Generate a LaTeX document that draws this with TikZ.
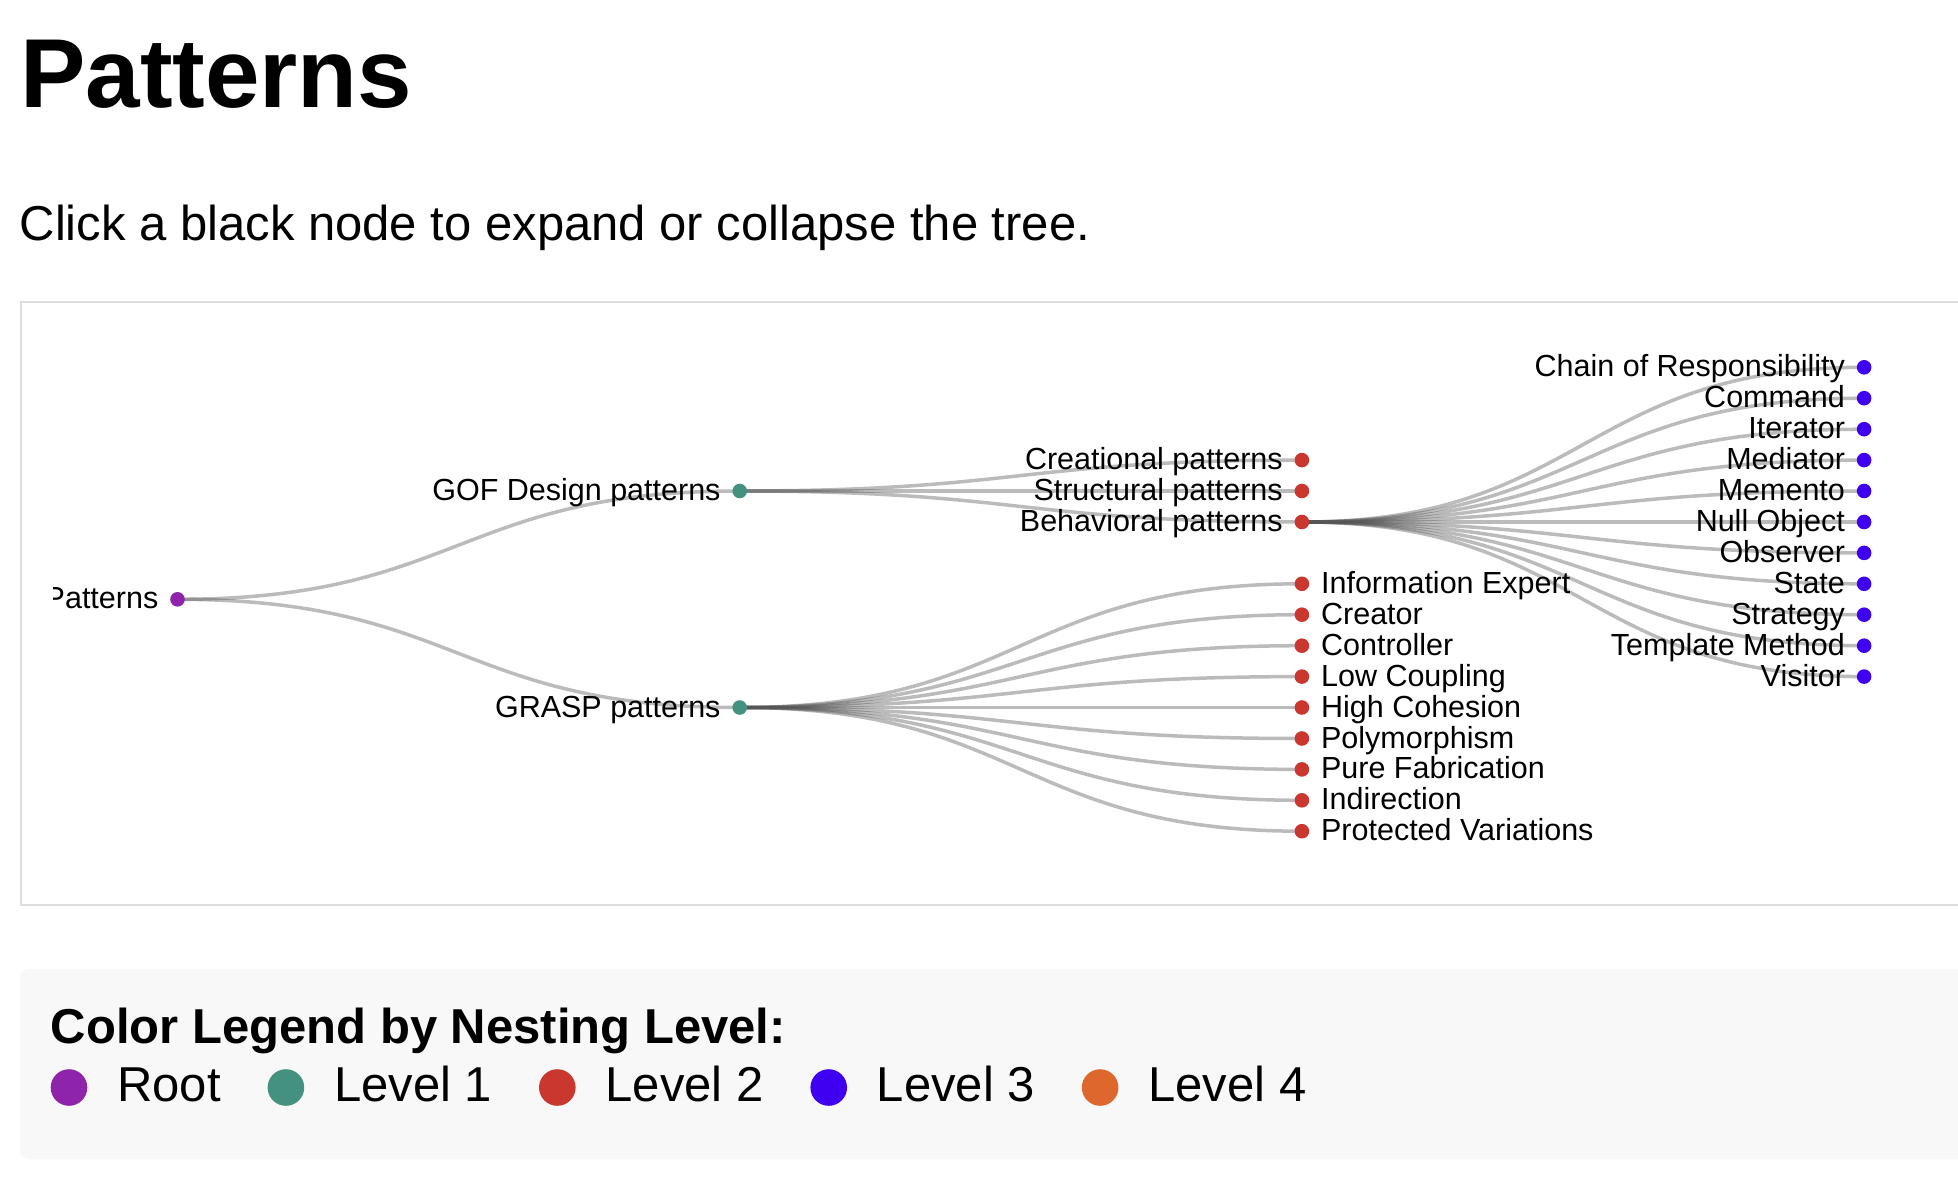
\documentclass[tikz,border=0pt]{standalone}
\usepackage{fontspec}
\setmainfont{Liberation Sans}
\usetikzlibrary{backgrounds}

\definecolor{rootpurple}{HTML}{8E24AA}
\definecolor{levelteal}{HTML}{43917E}
\definecolor{levelred}{HTML}{C9372F}
\definecolor{levelblue}{HTML}{3F00F2}
\definecolor{levelorange}{HTML}{DE672D}
\definecolor{linkgray}{HTML}{555555}
\definecolor{framegray}{HTML}{DDDDDD}
\definecolor{legendbg}{HTML}{F8F8F8}

% curved link from parent dot to child dot
\newcommand{\branch}[2]{\draw[link] (#1.center) .. controls ([xshift=281pt]#1.center) and ([xshift=-281pt]#2.center) .. (#2.center);}

\begin{document}
\begin{tikzpicture}[x=1pt, y=-1pt,
    dot/.style={circle, inner sep=0pt, minimum size=14.6pt},
    nodetext/.style={font=\fontsize{30.5}{36}\selectfont, inner sep=0pt},
    textleft/.style={nodetext, anchor=base east, xshift=-19pt, yshift=-9.5pt},
    textright/.style={nodetext, anchor=base west, xshift=19pt, yshift=-9.5pt},
    link/.style={draw=linkgray, opacity=0.4, line width=3.5pt},
    legdot/.style={circle, inner sep=0pt, minimum size=36.6pt},
    legtext/.style={font=\fontsize{49}{58}\selectfont, inner sep=0pt, anchor=base west}]

    \useasboundingbox (0,0) rectangle (1958,1196);

    % heading
    \node[anchor=base west, inner sep=0pt, font=\bfseries\fontsize{98}{110}\selectfont] (title) at (20,107) {Patterns};
    \node[anchor=base west, inner sep=0pt, font=\fontsize{49}{58}\selectfont] (subtitle) at (19.5,240) {Click a black node to expand or collapse the tree.};

    \begin{scope}[yshift=-1.3pt]
    % tree nodes
    \node[dot, fill=rootpurple] (root) at (177.5,598) {};
    \node[dot, fill=levelteal] (gof) at (739.7,489.7) {};
    \node[dot, fill=levelteal] (grasp) at (739.7,706.2) {};

    \node[dot, fill=levelred] (creational) at (1301.9,458.8) {};
    \node[dot, fill=levelred] (structural) at (1301.9,489.7) {};
    \node[dot, fill=levelred] (behavioral) at (1301.9,520.7) {};
    \node[dot, fill=levelred] (infoexpert) at (1301.9,582.5) {};
    \node[dot, fill=levelred] (creator) at (1301.9,613.4) {};
    \node[dot, fill=levelred] (controller) at (1301.9,644.4) {};
    \node[dot, fill=levelred] (lowcoupling) at (1301.9,675.3) {};
    \node[dot, fill=levelred] (highcohesion) at (1301.9,706.2) {};
    \node[dot, fill=levelred] (polymorphism) at (1301.9,737.2) {};
    \node[dot, fill=levelred] (purefab) at (1301.9,768.1) {};
    \node[dot, fill=levelred] (indirection) at (1301.9,799.0) {};
    \node[dot, fill=levelred] (protvar) at (1301.9,829.9) {};

    \node[dot, fill=levelblue] (chain) at (1864.1,366.0) {};
    \node[dot, fill=levelblue] (command) at (1864.1,396.9) {};
    \node[dot, fill=levelblue] (iterator) at (1864.1,427.9) {};
    \node[dot, fill=levelblue] (mediator) at (1864.1,458.8) {};
    \node[dot, fill=levelblue] (memento) at (1864.1,489.7) {};
    \node[dot, fill=levelblue] (nullobject) at (1864.1,520.7) {};
    \node[dot, fill=levelblue] (observer) at (1864.1,551.6) {};
    \node[dot, fill=levelblue] (state) at (1864.1,582.5) {};
    \node[dot, fill=levelblue] (strategy) at (1864.1,613.4) {};
    \node[dot, fill=levelblue] (templatemethod) at (1864.1,644.4) {};
    \node[dot, fill=levelblue] (visitor) at (1864.1,675.3) {};

    % labels
    \begin{scope}
        \clip (53,540) rectangle (400,660);
        \node[textleft] (root-text) at (root) {Patterns};
    \end{scope}
    \node[textleft] (gof-text) at (gof) {GOF Design patterns};
    \node[textleft] (grasp-text) at (grasp) {GRASP patterns};

    \node[textleft] (creational-text) at (creational) {Creational patterns};
    \node[textleft] (structural-text) at (structural) {Structural patterns};
    \node[textleft] (behavioral-text) at (behavioral) {Behavioral patterns};
    \node[textright] (infoexpert-text) at (infoexpert) {Information Expert};
    \node[textright] (creator-text) at (creator) {Creator};
    \node[textright] (controller-text) at (controller) {Controller};
    \node[textright] (lowcoupling-text) at (lowcoupling) {Low Coupling};
    \node[textright] (highcohesion-text) at (highcohesion) {High Cohesion};
    \node[textright] (polymorphism-text) at (polymorphism) {Polymorphism};
    \node[textright] (purefab-text) at (purefab) {Pure Fabrication};
    \node[textright] (indirection-text) at (indirection) {Indirection};
    \node[textright] (protvar-text) at (protvar) {Protected Variations};

    \node[textleft] (chain-text) at (chain) {Chain of Responsibility};
    \node[textleft] (command-text) at (command) {Command};
    \node[textleft] (iterator-text) at (iterator) {Iterator};
    \node[textleft] (mediator-text) at (mediator) {Mediator};
    \node[textleft] (memento-text) at (memento) {Memento};
    \node[textleft] (nullobject-text) at (nullobject) {Null Object};
    \node[textleft] (observer-text) at (observer) {Observer};
    \node[textleft] (state-text) at (state) {State};
    \node[textleft] (strategy-text) at (strategy) {Strategy};
    \node[textleft] (templatemethod-text) at (templatemethod) {Template Method};
    \node[textleft] (visitor-text) at (visitor) {Visitor};
    \end{scope}

    % frame and links behind the nodes
    \begin{pgfonlayer}{background}
        \draw[framegray, line width=2pt] (21,302) rectangle (1975,905);
        \fill[legendbg, rounded corners=9pt] (20,969) rectangle (1990,1159);

        \branch{root}{gof}
        \branch{root}{grasp}

        \branch{gof}{creational}
        \branch{gof}{structural}
        \branch{gof}{behavioral}

        \branch{grasp}{infoexpert}
        \branch{grasp}{creator}
        \branch{grasp}{controller}
        \branch{grasp}{lowcoupling}
        \branch{grasp}{highcohesion}
        \branch{grasp}{polymorphism}
        \branch{grasp}{purefab}
        \branch{grasp}{indirection}
        \branch{grasp}{protvar}

        \branch{behavioral}{chain}
        \branch{behavioral}{command}
        \branch{behavioral}{iterator}
        \branch{behavioral}{mediator}
        \branch{behavioral}{memento}
        \branch{behavioral}{nullobject}
        \branch{behavioral}{observer}
        \branch{behavioral}{state}
        \branch{behavioral}{strategy}
        \branch{behavioral}{templatemethod}
        \branch{behavioral}{visitor}
    \end{pgfonlayer}

    % legend
    \node[anchor=base west, inner sep=0pt, font=\bfseries\fontsize{49}{58}\selectfont] (legend-title) at (50.5,1043) {Color Legend by Nesting Level:};
    \node[legdot, fill=rootpurple] (leg-root) at (69,1087.5) {};
    \node[legtext] (leg-root-text) at ([xshift=48pt, yshift=-14.2pt]leg-root.center) {Root};
    \node[legdot, fill=levelteal] (leg-one) at ([xshift=65pt, yshift=14.2pt]leg-root-text.base east) {};
    \node[legtext] (leg-one-text) at ([xshift=48pt, yshift=-14.2pt]leg-one.center) {Level 1};
    \node[legdot, fill=levelred] (leg-two) at ([xshift=65pt, yshift=14.2pt]leg-one-text.base east) {};
    \node[legtext] (leg-two-text) at ([xshift=48pt, yshift=-14.2pt]leg-two.center) {Level 2};
    \node[legdot, fill=levelblue] (leg-three) at ([xshift=65pt, yshift=14.2pt]leg-two-text.base east) {};
    \node[legtext] (leg-three-text) at ([xshift=48pt, yshift=-14.2pt]leg-three.center) {Level 3};
    \node[legdot, fill=levelorange] (leg-four) at ([xshift=65pt, yshift=14.2pt]leg-three-text.base east) {};
    \node[legtext] (leg-four-text) at ([xshift=48pt, yshift=-14.2pt]leg-four.center) {Level 4};
\end{tikzpicture}
\end{document}
